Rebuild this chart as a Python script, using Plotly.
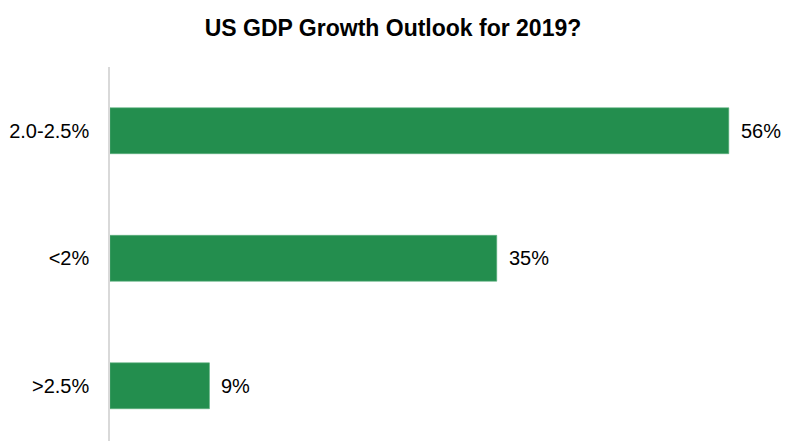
import plotly.graph_objects as go

# Survey responses, listed bottom to top
categories = [">2.5%", "<2%", "2.0-2.5%"]
shares = [9, 35, 56]
value_labels = ["9%", "35%", "56%"]

bar_color = "#238E4E"
font_family = "Liberation Sans, Arial, sans-serif"

fig = go.Figure(
    go.Bar(
        x=shares,
        y=categories,
        orientation="h",
        width=0.36,
        marker=dict(color=bar_color, line=dict(color="#5DB07E", width=0.6)),
        hoverinfo="skip",
    )
)

for cat, val, lab in zip(categories, shares, value_labels):
    fig.add_annotation(
        x=val, y=cat, text=lab, showarrow=False,
        xanchor="left", yanchor="middle", xshift=10,
        font=dict(family=font_family, size=20, color="#000000"),
    )

fig.update_layout(
    width=786, height=441,
    margin=dict(l=110, r=13, t=67, b=0),
    paper_bgcolor="white", plot_bgcolor="white",
    showlegend=False,
    title=dict(
        text="<b>US GDP Growth Outlook for 2019?</b>",
        x=0.5, xanchor="center", y=0.936, yanchor="middle",
        font=dict(family=font_family, size=23, color="#000000"),
    ),
    xaxis=dict(range=[0, 60], visible=False, fixedrange=True),
    yaxis=dict(
        type="category",
        categoryorder="array", categoryarray=categories,
        range=[-0.433, 2.5],
        showgrid=False, zeroline=False,
        showline=True, linecolor="#D9D9D9", linewidth=1.5,
        ticks="", ticklabelstandoff=15,
        tickfont=dict(family=font_family, size=20, color="#000000"),
    ),
)

fig.write_html("out.html")
